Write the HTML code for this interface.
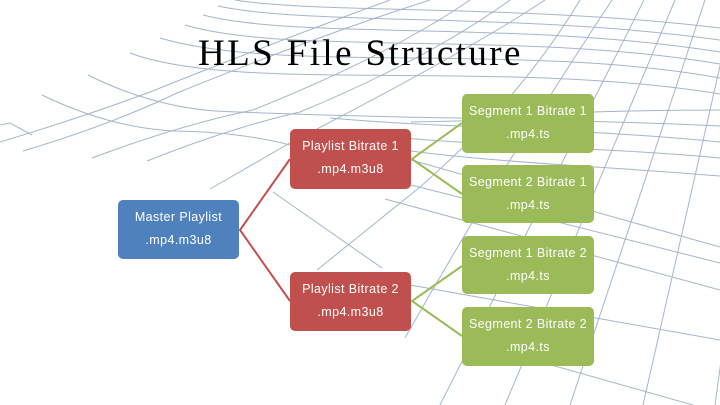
<!DOCTYPE html>
<html>
<head>
<meta charset="utf-8">
<style>
  html, body { margin:0; padding:0; }
  body { width:720px; height:405px; position:relative; overflow:hidden; background:#ffffff; }
  svg.bg { position:absolute; left:0; top:0; }
  .box { position:absolute; border-radius:5px; color:#ffffff;
         font-family:"Liberation Sans", Arial, sans-serif; font-size:12.5px; letter-spacing:0.4px;
         line-height:23px; text-align:center; padding-top:6px; box-sizing:border-box; white-space:nowrap; }
  .blue { background:#4F81BD; }
  .red { background:#C0504D; }
  .green { background:#9BBB59; }
  .title { position:absolute; left:198px; top:35px; height:40px; white-space:nowrap;
           font-family:"Liberation Serif", "Times New Roman", serif; font-size:37px; line-height:37px;
           letter-spacing:2.4px; color:#000; }
</style>
</head>
<body>
<svg class="bg" width="720" height="405" viewBox="0 0 720 405" xmlns="http://www.w3.org/2000/svg">
  <g fill="none" stroke="#A3B6CD" stroke-width="1">
    <!-- fan (lower-left to upper-right) lines -->
    <path d="M0,142 Q80,118 150,92 Q280,40 390,0"/>
    <path d="M23,151 Q110,125 177,93 Q320,35 430,0"/>
    <path d="M92,158 Q180,125 253,110 Q390,55 470,0"/>
    <path d="M147,161 Q230,128 300,112 Q430,58 510,0"/>
    <path d="M210,189 L290,143 Q470,50 545,0"/>
    <path d="M317,270 L420,187 Q520,100 580,0"/>
    <path d="M405,338 Q500,170 612,0"/>
    <path d="M440,405 L644,0"/>
    <path d="M505,405 L675,0"/>
    <path d="M570,405 L705,0"/>
    <path d="M643,405 L735,0"/>
    <path d="M715,405 L770,0"/>
    <!-- horizontal-ish lines -->
    <path d="M235,0 C320,14 520,4 720,28"/>
    <path d="M218,6 C310,26 520,12 720,40"/>
    <path d="M203,15 C300,40 520,20 720,52"/>
    <path d="M185,25 C290,56 520,30 720,64"/>
    <path d="M160,38 C280,74 520,42 720,78"/>
    <path d="M130,53 C240,94 500,58 720,94"/>
    <path d="M88,75 Q150,106 215,111 Q330,116 463,118 Q600,110 720,110"/>
    <path d="M42,95 Q110,128 175,131 Q240,132 290,145"/>
    <path d="M411,122 Q560,118 720,126"/>
    <path d="M330,118 C440,128 580,128 720,142"/>
    <path d="M350,132 C450,146 590,146 720,158"/>
    <path d="M390,148 C480,162 600,166 720,176"/>
    <path d="M411,160 L720,247"/>
    <path d="M411,185 L720,263"/>
    <path d="M385,199 L720,290"/>
    <path d="M410,285 L720,340"/>
    <path d="M470,342 L700,407"/>
    <path d="M273,192 L382,268"/>
    <path d="M0,125 L10,123 L32,135"/>
  </g>
  <!-- connectors -->
  <g fill="none" stroke-width="2" stroke-linejoin="miter">
    <path d="M290,159 L240,230 L290,301" stroke="#C0504D"/>
    <path d="M462,123 L412,159 L462,194" stroke="#9BBB59"/>
    <path d="M462,266 L412,301 L462,336" stroke="#9BBB59"/>
  </g>
</svg>

<div class="title">HLS File Structure</div>

<div class="box blue" style="left:118px; top:200px; width:121px; height:59px;">Master Playlist<br>.mp4.m3u8</div>

<div class="box red" style="left:290px; top:129px; width:121px; height:60px;">Playlist Bitrate 1<br>.mp4.m3u8</div>
<div class="box red" style="left:290px; top:272px; width:121px; height:59px;">Playlist Bitrate 2<br>.mp4.m3u8</div>

<div class="box green" style="left:462px; top:94px; width:132px; height:59px;">Segment 1 Bitrate 1<br>.mp4.ts</div>
<div class="box green" style="left:462px; top:165px; width:132px; height:58px;">Segment 2 Bitrate 1<br>.mp4.ts</div>
<div class="box green" style="left:462px; top:236px; width:132px; height:58px;">Segment 1 Bitrate 2<br>.mp4.ts</div>
<div class="box green" style="left:462px; top:307px; width:132px; height:59px;">Segment 2 Bitrate 2<br>.mp4.ts</div>
</body>
</html>
